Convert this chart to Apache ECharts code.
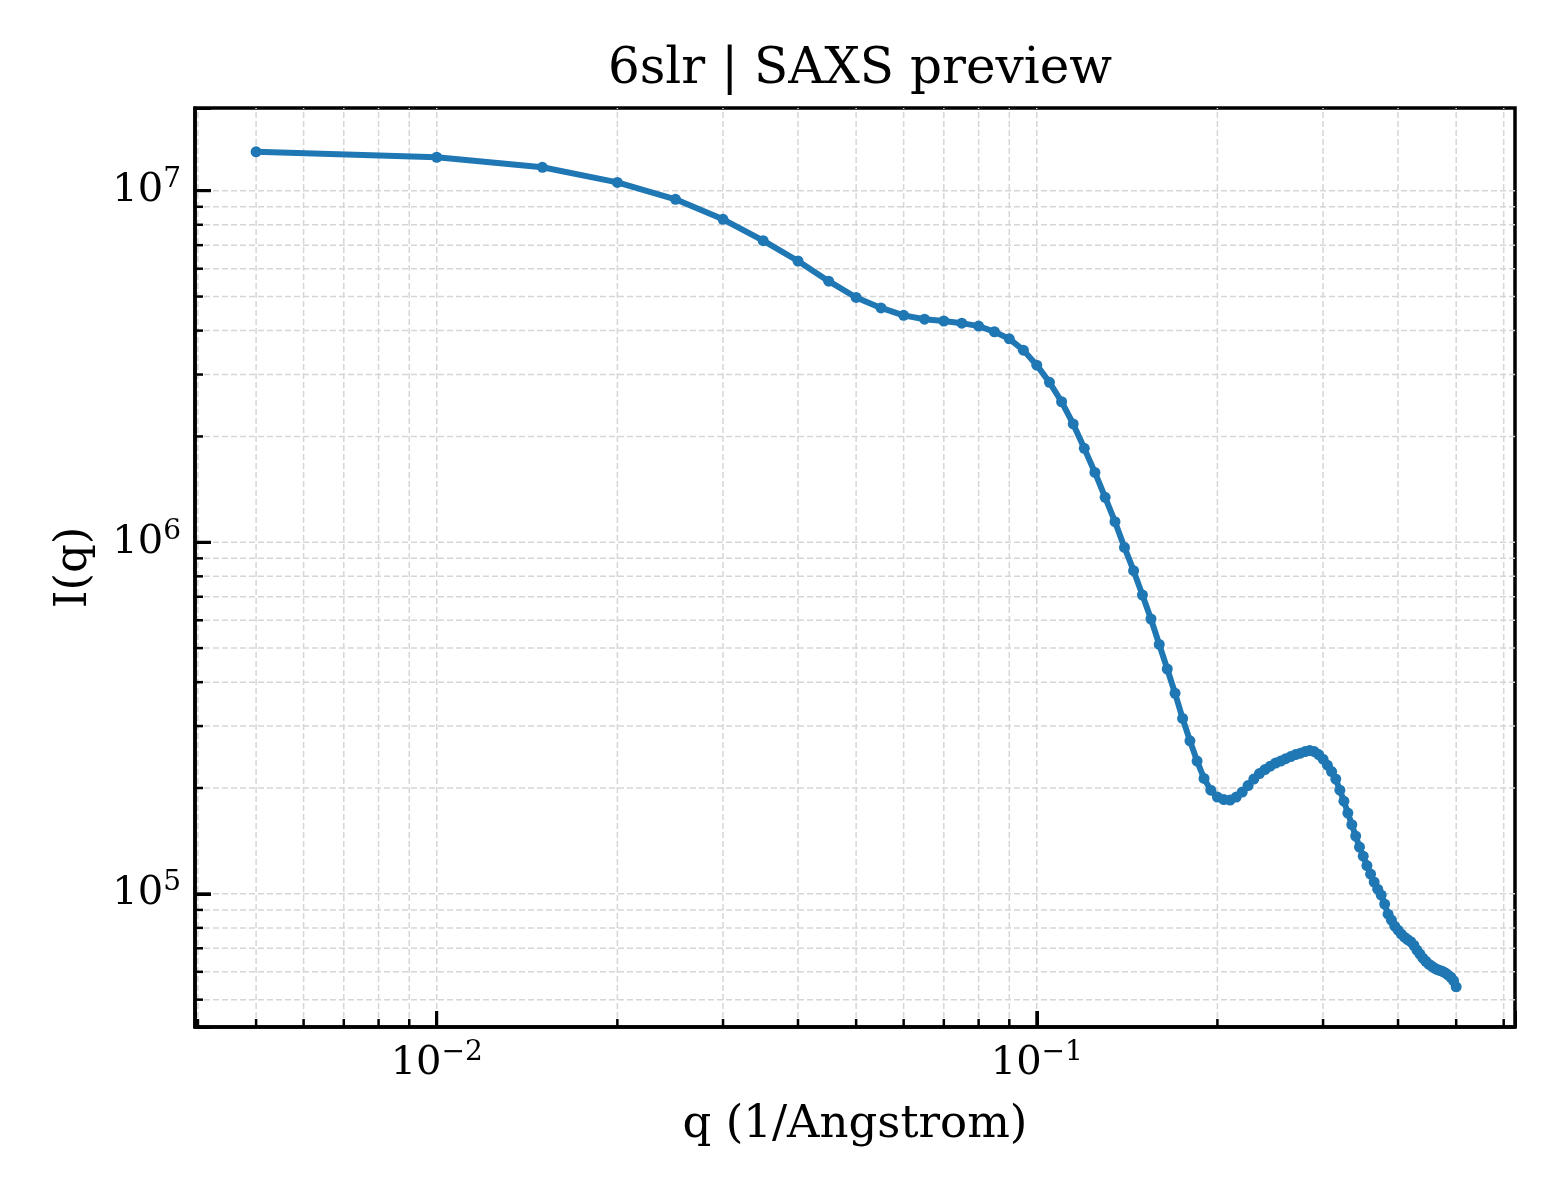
<!DOCTYPE html>
<html lang="en">
<head>
    <meta charset="UTF-8">
    <title>6slr | SAXS preview</title>
    <script src="https://cdn.jsdelivr.net/npm/echarts@6/dist/echarts.min.js"></script>
    <style>
        html, body { margin: 0; padding: 0; background: #fff; }
        #chart { width: 1560px; height: 1200px; }
    </style>
</head>
<body>
<div id="chart"></div>

<script>
    var qValues = [
        0.005, 0.010, 0.015, 0.020, 0.025, 0.030, 0.035, 0.040, 0.045, 0.050,
        0.055, 0.060, 0.065, 0.070, 0.075, 0.080, 0.085, 0.090, 0.095, 0.100,
        0.105, 0.110, 0.115, 0.120, 0.125, 0.130, 0.135, 0.140, 0.145, 0.150,
        0.155, 0.160, 0.165, 0.170, 0.175, 0.180, 0.185, 0.190, 0.195, 0.200,
        0.205, 0.210, 0.215, 0.220, 0.225, 0.230, 0.235, 0.240, 0.245, 0.250,
        0.255, 0.260, 0.265, 0.270, 0.275, 0.280, 0.285, 0.290, 0.295, 0.300,
        0.305, 0.310, 0.315, 0.320, 0.325, 0.330, 0.335, 0.340, 0.345, 0.350,
        0.355, 0.360, 0.365, 0.370, 0.375, 0.380, 0.385, 0.390, 0.395, 0.400,
        0.405, 0.410, 0.415, 0.420, 0.425, 0.430, 0.435, 0.440, 0.445, 0.450,
        0.455, 0.460, 0.465, 0.470, 0.475, 0.480, 0.485, 0.490, 0.495, 0.500
    ];
    var intensity = [
        1.29e7, 1.245e7, 1.166e7, 1.056e7, 9.45e6, 8.29e6, 7.21e6, 6.31e6, 5.53e6, 4.97e6,
        4.64e6, 4.42e6, 4.31e6, 4.26e6, 4.20e6, 4.12e6, 3.97e6, 3.79e6, 3.52e6, 3.19e6,
        2.85e6, 2.51e6, 2.17e6, 1.85e6, 1.58e6, 1.342e6, 1.144e6, 9.67e5, 8.30e5, 7.08e5,
        6.05e5, 5.12e5, 4.36e5, 3.72e5, 3.155e5, 2.725e5, 2.385e5, 2.13e5, 1.972e5, 1.884e5,
        1.854e5, 1.848e5, 1.884e5, 1.947e5, 2.032e5, 2.120e5, 2.198e5, 2.256e5, 2.308e5, 2.354e5,
        2.385e5, 2.424e5, 2.457e5, 2.489e5, 2.513e5, 2.538e5, 2.555e5, 2.538e5, 2.489e5, 2.416e5,
        2.323e5, 2.227e5, 2.120e5, 1.972e5, 1.835e5, 1.697e5, 1.573e5, 1.460e5, 1.358e5, 1.280e5,
        1.203e5, 1.138e5, 1.080e5, 1.031e5, 9.92e4, 9.35e4, 8.75e4, 8.42e4, 8.09e4, 7.88e4,
        7.68e4, 7.53e4, 7.41e4, 7.31e4, 7.14e4, 6.92e4, 6.74e4, 6.56e4, 6.43e4, 6.31e4,
        6.23e4, 6.15e4, 6.09e4, 6.05e4, 6.01e4, 5.95e4, 5.87e4, 5.79e4, 5.66e4, 5.44e4
    ];

    // axis ranges
    var xMin = 3.955e-3, xMax = 0.6266;
    var yMin = 4.18e4, yMax = 1.719e7;

    // grid positions at 1..9 of each decade; ticks: [x, y, tickLength] (16 major, 8 minor)
    var xGridVals = [];
    var yGridVals = [];
    for (var e = -3; e <= 0; e++) {
        for (var m = 1; m <= 9; m++) {
            var v = m * Math.pow(10, e);
            if (v > xMin && v < xMax) xGridVals.push([v, yMin, m === 1 ? 16 : 8]);
        }
    }
    for (var e2 = 4; e2 <= 7; e2++) {
        for (var m2 = 1; m2 <= 9; m2++) {
            var w = m2 * Math.pow(10, e2);
            if (w > yMin && w < yMax) yGridVals.push([xMin, w, m2 === 1 ? 16 : 8]);
        }
    }

    var serif = 'DejaVu Serif';
    var gridColor = '#d6d6d6';

    function powLabel(value) {
        var p = Math.log10(value);
        var r = Math.round(p);
        if (Math.abs(p - r) > 1e-6) return '';
        return '{b|10}{s|' + (r < 0 ? '\u2212' + (-r) : r) + '}';
    }

    var labelRich = {
        b: { fontFamily: serif, fontSize: 40, color: '#000', lineHeight: 50 },
        s: { fontFamily: serif, fontSize: 28, color: '#000', verticalAlign: 'top', lineHeight: 28 }
    };

    // vertical (x) or horizontal (y) grid lines
    function gridRenderer(isX) {
        return function (params, api) {
            var p0, p1;
            if (isX) {
                p0 = api.coord([api.value(0), yMin]);
                p1 = api.coord([api.value(0), yMax]);
            } else {
                p0 = api.coord([xMin, api.value(1)]);
                p1 = api.coord([xMax, api.value(1)]);
            }
            return {
                type: 'line',
                shape: { x1: p0[0], y1: p0[1], x2: p1[0], y2: p1[1] },
                style: { stroke: gridColor, lineWidth: 1.5, lineDash: [6, 3] }
            };
        };
    }

    // inward ticks on the bottom (x) or left (y) axis
    function tickRenderer(isX) {
        return function (params, api) {
            var len = api.value(2);
            var p = isX ? api.coord([api.value(0), yMin]) : api.coord([xMin, api.value(1)]);
            return {
                type: 'line',
                shape: isX
                    ? { x1: p[0], y1: p[1], x2: p[0], y2: p[1] - len }
                    : { x1: p[0], y1: p[1], x2: p[0] + len, y2: p[1] },
                style: { stroke: '#000', lineWidth: len > 10 ? 3 : 2.5 }
            };
        };
    }

    var chart = echarts.init(document.getElementById('chart'), null, { renderer: 'canvas' });

    var option = {
        backgroundColor: '#fff',
        animation: false,
        title: {
            text: '6slr | SAXS preview',
            left: 855,
            textAlign: 'center',
            top: 40,
            textStyle: { fontFamily: serif, fontSize: 50, fontWeight: 'normal', color: '#000' }
        },
        grid: {
            left: 195,
            right: 45,
            top: 108,
            bottom: 173,
            show: true,
            borderColor: '#000',
            borderWidth: 3.5,
            backgroundColor: 'transparent'
        },
        xAxis: {
            type: 'log',
            logBase: 10,
            min: xMin,
            max: xMax,
            z: 10,
            name: 'q (1/Angstrom)',
            nameLocation: 'middle',
            nameGap: 76,
            nameTextStyle: { fontFamily: serif, fontSize: 45, color: '#000' },
            axisLine: { show: true, lineStyle: { color: '#000', width: 3.5 } },
            axisTick: { show: true, inside: true, length: 16, lineStyle: { color: '#000', width: 3 } },
            axisLabel: { margin: 12, formatter: powLabel, rich: labelRich, showMinLabel: true, showMaxLabel: true },
            splitLine: { show: false }
        },
        yAxis: {
            type: 'log',
            logBase: 10,
            min: yMin,
            max: yMax,
            z: 10,
            name: 'I(q)',
            nameLocation: 'middle',
            nameGap: 98,
            nameTextStyle: { fontFamily: serif, fontSize: 45, color: '#000' },
            axisLine: { show: true, lineStyle: { color: '#000', width: 3.5 } },
            axisTick: { show: true, inside: true, length: 16, lineStyle: { color: '#000', width: 3 } },
            axisLabel: { margin: 14, formatter: powLabel, rich: labelRich },
            splitLine: { show: false }
        },
        series: [
            { type: 'custom', z: 1, silent: true, data: xGridVals, renderItem: gridRenderer(true) },
            { type: 'custom', z: 1, silent: true, data: yGridVals, renderItem: gridRenderer(false) },
            {
                name: 'I(q)',
                type: 'line',
                z: 3,
                data: qValues.map(function (q, i) { return [q, intensity[i]]; }),
                symbol: 'circle',
                symbolSize: 11,
                showAllSymbol: true,
                lineStyle: { color: '#1f77b4', width: 6 },
                itemStyle: { color: '#1f77b4' }
            },
            { type: 'custom', z: 5, silent: true, clip: false, data: xGridVals, renderItem: tickRenderer(true) },
            { type: 'custom', z: 5, silent: true, clip: false, data: yGridVals, renderItem: tickRenderer(false) }
        ]
    };

    chart.setOption(option);
</script>
</body>
</html>
